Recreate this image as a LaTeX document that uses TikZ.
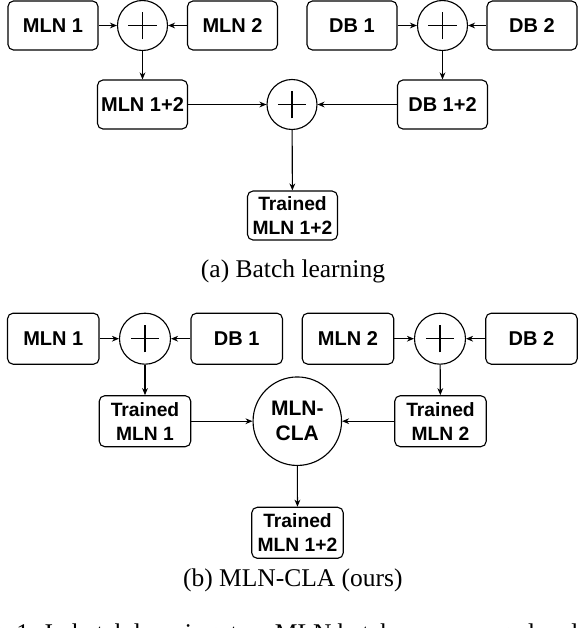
\documentclass[tikz,border=0pt]{standalone}
\usepackage{fontspec}
\setmainfont{Liberation Serif}
\setsansfont{Liberation Sans}
\usepackage{tikz}
\usetikzlibrary{arrows.meta,positioning}

\begin{document}
\begin{tikzpicture}[
  x=0.4pt, y=-0.4pt,
  every node/.style={font=\sffamily\bfseries\fontsize{8}{9.7}\selectfont},
  blk/.style={rectangle, rounded corners=2.2pt, draw, line width=0.45pt,
              minimum width=36pt, minimum height=19.6pt, inner sep=1pt, align=center},
  blkb/.style={blk, minimum width=36.6pt, minimum height=20.4pt},
  trn/.style={font=\sffamily\bfseries\fontsize{7.7}{9.7}\selectfont},
  sumc/.style={circle, draw, line width=0.45pt, minimum size=20pt, inner sep=0pt,
               path picture={
                 \draw[line width=0.45pt] ([xshift=-5.7pt]path picture bounding box.center)
                                       -- ([xshift= 5.7pt]path picture bounding box.center);
                 \draw[line width=0.45pt] ([yshift=-5.5pt]path picture bounding box.center)
                                       -- ([yshift= 5.5pt]path picture bounding box.center);}},
  arr/.style={-{Stealth[length=2.8pt,width=2.3pt,inset=0.9pt]}, line width=0.45pt},
  captxt/.style={font=\rmfamily\fontsize{10.2}{12}\selectfont, anchor=base},
]
\useasboundingbox (0,0) rectangle (578,628);

%% ─ (a) Batch learning ───────────────────────────────────────────────────────
\node[blk]  (ma1)  at ( 53.0, 25.5) {MLN 1};
\node[sumc] (sa1)  at (142.5, 25.5) {};
\node[blk]  (ma2)  at (232.5, 25.5) {MLN 2};
\node[blk]  (da1)  at (352.0, 25.5) {DB 1};
\node[sumc] (sa2)  at (442.5, 25.5) {};
\node[blk]  (da2)  at (532.0, 25.5) {DB 2};
\node[blk]  (ma12) at (142.5,104.5) {MLN 1+2};
\node[sumc] (sa3)  at (292.0,104.5) {};
\node[blk]  (da12) at (442.5,104.5) {DB 1+2};
\node[blk,trn] (ta12) at (292.5,215.5) {Trained\\MLN 1+2};

\draw[arr] (ma1)  -- (sa1);
\draw[arr] (ma2)  -- (sa1);
\draw[arr] (da1)  -- (sa2);
\draw[arr] (da2)  -- (sa2);
\draw[arr] (sa1)  -- (ma12);
\draw[arr] (sa2)  -- (da12);
\draw[arr] (ma12) -- (sa3);
\draw[arr] (da12) -- (sa3);
\draw[arr] (sa3)  -- (ta12);

\node[captxt] (capa) at (293.0,277.6) {(a) Batch learning};

%% ─ (b) MLN-CLA ──────────────────────────────────────────────────────────────
\node[blkb] (mb1)  at ( 53.3,338.7) {MLN 1};
\node[sumc, minimum size=20.4pt] (sb1) at (145.0,338.7) {};
\node[blkb] (db1)  at (236.7,338.7) {DB 1};
\node[blkb] (mb2)  at (348.0,338.7) {MLN 2};
\node[sumc, minimum size=20.4pt] (sb2) at (440.0,338.7) {};
\node[blkb] (db2)  at (531.5,338.7) {DB 2};
\node[blkb,trn] (tb1) at (145.0,421.2) {Trained\\MLN 1};
\node[blkb,trn] (tb2) at (440.5,421.2) {Trained\\MLN 2};
\node[circle, draw, line width=0.45pt, minimum size=35.4pt, inner sep=0pt, align=center,
      font=\sffamily\bfseries\fontsize{8.4}{10}\selectfont]
     (cla) at (297.3,421.2) {MLN-\\CLA};
\node[blkb,trn] (tb12) at (297.5,532.8) {Trained\\MLN 1+2};

\draw[arr] (mb1) -- (sb1);
\draw[arr] (db1) -- (sb1);
\draw[arr] (mb2) -- (sb2);
\draw[arr] (db2) -- (sb2);
\draw[arr] (sb1) -- (tb1);
\draw[arr] (sb2) -- (tb2);
\draw[arr] (tb1) -- (cla);
\draw[arr] (tb2) -- (cla);
\draw[arr] (cla) -- (tb12);

\node[captxt] (capb) at (292.8,586.6) {(b) MLN-CLA (ours)};

%% ─ cut caption line ─────────────────────────────────────────────────────────
\begin{scope}
\clip (0,0) rectangle (578,628);
\node[captxt, anchor=base west] (capf) at (-41.3,641.5)
  {Fig. 1: In batch learning, two MLN batches are merged and trained again from scratch.};
\end{scope}

\end{tikzpicture}
\end{document}
